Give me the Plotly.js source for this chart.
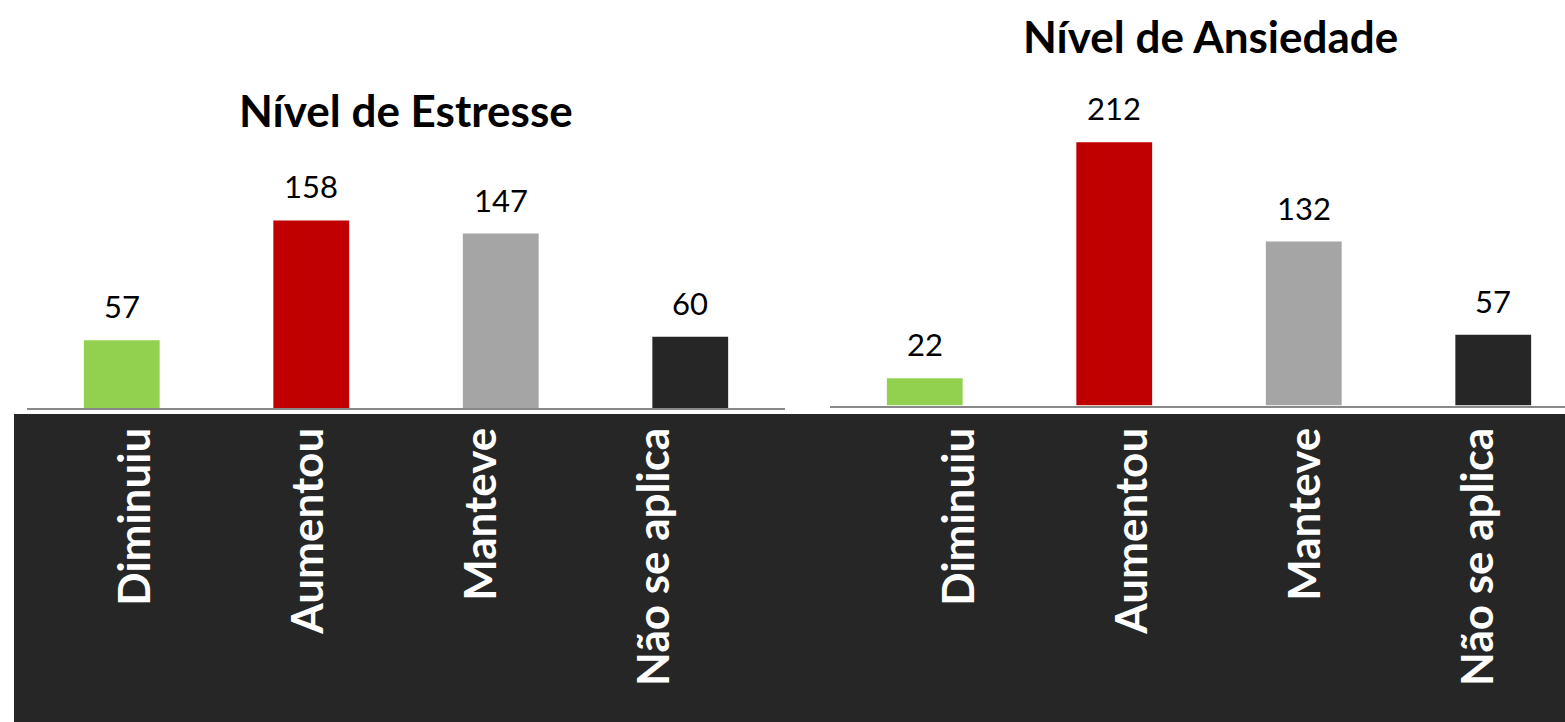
<!DOCTYPE html>
<html>
<head>
<meta charset="utf-8">
<script src="https://cdn.plot.ly/plotly-3.0.1.min.js"></script>
<style>
html,body{margin:0;padding:0;background:#fff;}
#chart{width:1565px;height:722px;}
</style>
</head>
<body>
<div id="chart"></div>
<script>
// ---- data ----
const categories = ['Diminuiu', 'Aumentou', 'Manteve', 'Não se aplica'];
const estresse = [57, 158, 147, 60];
const ansiedade = [22, 212, 132, 57];
const titleEstresse = 'Nível de Estresse';
const titleAnsiedade = 'Nível de Ansiedade';

// ---- styles ----
const barColors = ['#92D050', '#C00000', '#A5A5A5', '#262626'];
const FONT = 'Lato, "Open Sans", sans-serif';
const W = 1565, H = 722;
const px = v => v / W;
const py = v => (H - v) / H;

const traces = [
  {type: 'bar', x: categories, y: estresse, xaxis: 'x', yaxis: 'y',
   marker: {color: barColors}, hoverinfo: 'x+y'},
  {type: 'bar', x: categories, y: ansiedade, xaxis: 'x2', yaxis: 'y2',
   marker: {color: barColors}, hoverinfo: 'x+y'},
  // invisible traces carrying the category labels on separate label axes
  {type: 'scatter', mode: 'none', x: categories, y: estresse, xaxis: 'x3', yaxis: 'y', hoverinfo: 'skip'},
  {type: 'scatter', mode: 'none', x: categories, y: ansiedade, xaxis: 'x4', yaxis: 'y2', hoverinfo: 'skip'}
];

const annotations = [];
categories.forEach((c, i) => {
  annotations.push({xref: 'x', yref: 'y', x: c, y: estresse[i], text: String(estresse[i]),
    showarrow: false, yanchor: 'bottom', yshift: 13, font: {family: FONT, size: 31, color: '#000'}});
  annotations.push({xref: 'x2', yref: 'y2', x: c, y: ansiedade[i], text: String(ansiedade[i]),
    showarrow: false, yanchor: 'bottom', yshift: 13, font: {family: FONT, size: 31, color: '#000'}});
});
annotations.push({xref: 'paper', yref: 'paper', x: px(406), y: py(110), text: '<b>' + titleEstresse + '</b>',
  showarrow: false, xanchor: 'center', yanchor: 'middle', font: {family: FONT, size: 44, color: '#000'}});
annotations.push({xref: 'paper', yref: 'paper', x: px(1210), y: py(36), text: '<b>' + titleAnsiedade + '</b>',
  showarrow: false, xanchor: 'center', yanchor: 'middle', font: {family: FONT, size: 44, color: '#000'}});

const baseAxis = {type: 'category', showgrid: false, zeroline: false, fixedrange: true};
const labelAxis = Object.assign({}, baseAxis, {
  showline: false, ticks: '', tickangle: -90, anchor: 'free', position: py(418),
  range: [-0.5, 3.5],
  tickfont: {family: FONT, size: 44, color: '#fff', weight: 'bold'}
});

const layout = {
  width: W, height: H,
  margin: {l: 0, r: 0, t: 0, b: 0, pad: 0},
  paper_bgcolor: '#fff', plot_bgcolor: 'rgba(0,0,0,0)',
  showlegend: false, bargap: 0.6,
  xaxis: Object.assign({}, baseAxis, {domain: [px(27), px(785)], anchor: 'y', range: [-0.5, 3.5],
    showline: true, linecolor: '#898989', linewidth: 2, showticklabels: false, ticks: ''}),
  yaxis: {domain: [py(408), 1], anchor: 'x', range: [0, 408 / 1.187], visible: false, fixedrange: true},
  xaxis2: Object.assign({}, baseAxis, {domain: [px(830), 1], anchor: 'y2', range: [-0.5, -0.5 + 735 / 189.5],
    showline: true, linecolor: '#898989', linewidth: 2, showticklabels: false, ticks: ''}),
  yaxis2: {domain: [py(405.5), 1], anchor: 'x2', range: [0, 405.5 / 1.242], visible: false, fixedrange: true},
  xaxis3: Object.assign({}, labelAxis, {domain: [px(49.5), px(741.5)]}),
  xaxis4: Object.assign({}, labelAxis, {domain: [px(873), 1]}),
  shapes: [{type: 'rect', xref: 'paper', yref: 'paper', x0: px(14), x1: 1, y0: 0, y1: py(414),
    fillcolor: '#262626', line: {width: 0}, layer: 'below'}],
  annotations: annotations
};

Plotly.newPlot('chart', traces, layout, {displayModeBar: false, staticPlot: true});
</script>
</body>
</html>
